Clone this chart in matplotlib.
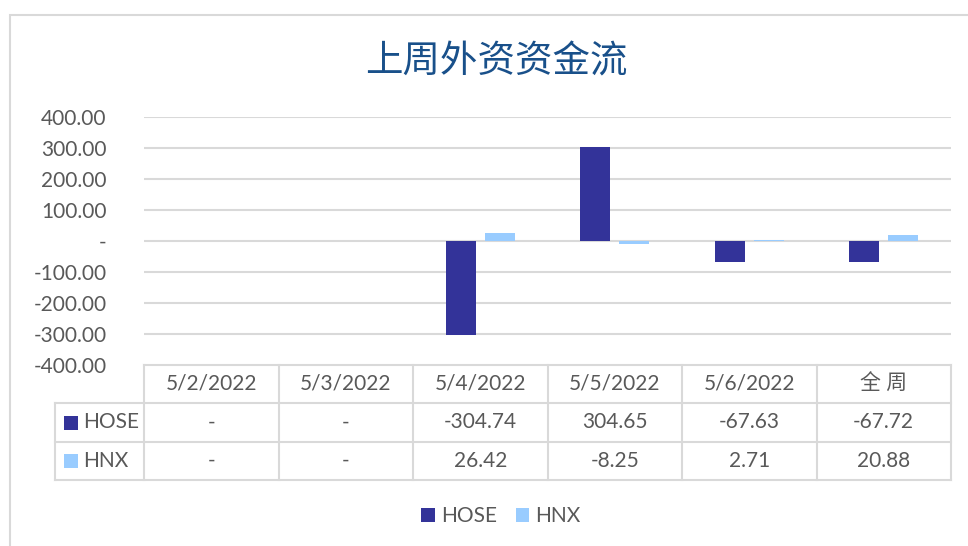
import matplotlib
matplotlib.use("Agg")
import matplotlib.pyplot as plt
from matplotlib.patches import Patch, Rectangle
from matplotlib.transforms import blended_transform_factory
import numpy as np

plt.rcParams['font.family'] = ['Lato', 'Noto Sans CJK SC', 'DejaVu Sans']

# data
dates = ['5/2/2022', '5/3/2022', '5/4/2022', '5/5/2022', '5/6/2022', '全 周']
hose = [0, 0, -304.74, 304.65, -67.63, -67.72]
hnx = [0, 0, 26.42, -8.25, 2.71, 20.88]
series_names = ['HOSE', 'HNX']
yticks = [-400, -300, -200, -100, 0, 100, 200, 300, 400]

c_hose = '#333399'
c_hnx = '#99CCFF'
grid_c = '#D9D9D9'
text_c = '#595959'

fig = plt.figure(figsize=(9.68, 5.46), dpi=100)
W, H = 968, 546

# outer chart frame
fig.patches.append(Rectangle((10 / W, -0.2), 1.2, 1 - 15 / H + 0.2, transform=fig.transFigure,
                             fill=False, edgecolor=grid_c, lw=1.5))

ax = fig.add_axes([144 / W, 1 - 365 / H, (951 - 144) / W, (365 - 117) / H])
x = np.arange(len(dates))
bw = 0.22
off = 0.145
ax.bar(x - off, hose, bw, color=c_hose, zorder=3)
ax.bar(x + off, hnx, bw, color=c_hnx, zorder=3)

ax.set_xlim(-0.5, len(dates) - 0.5)
ax.set_ylim(-400, 400)
ax.set_yticks(yticks)
ax.set_yticklabels(['-' if v == 0 else f'{v:.2f}' for v in yticks], fontsize=15, color=text_c)
ax.tick_params(axis='y', length=0, pad=27)
ax.set_xticks([])
for s in ax.spines.values():
    s.set_visible(False)
for v in yticks[1:]:
    ax.axhline(v, color=grid_c, lw=1.5, zorder=1)

# data table under the axes
tr = blended_transform_factory(ax.transData, ax.transAxes)
ah = 365 - 117
ry = [0, (365 - 403) / ah, (365 - 442) / ah, (365 - 480) / ah]
xl = -0.5 - 89 / 134.5
xr = len(dates) - 0.5
kw = dict(color=grid_c, lw=1.5, transform=tr, clip_on=False)
ax.plot([-0.5, xr], [ry[0], ry[0]], **kw)
for yy in ry[1:]:
    ax.plot([xl, xr], [yy, yy], **kw)
for i in range(len(dates) + 1):
    ax.plot([i - 0.5, i - 0.5], [ry[0], ry[3]], **kw)
ax.plot([xl, xl], [ry[1], ry[3]], **kw)

def fmt(v):
    return '-' if v == 0 else f'{v:.2f}'

for i, d in enumerate(dates):
    ax.text(i, (ry[0] + ry[1]) / 2, d, transform=tr, ha='center', va='center',
            fontsize=15, color=text_c, clip_on=False)
    ax.text(i, (ry[1] + ry[2]) / 2, fmt(hose[i]), transform=tr, ha='center', va='center',
            fontsize=15, color=text_c, clip_on=False)
    ax.text(i, (ry[2] + ry[3]) / 2, fmt(hnx[i]), transform=tr, ha='center', va='center',
            fontsize=15, color=text_c, clip_on=False)

for k, (name, col) in enumerate(zip(series_names, [c_hose, c_hnx])):
    yc = (ry[k + 1] + ry[k + 2]) / 2
    ax.add_patch(Rectangle((xl + 9 / 134.5, yc - 7 / ah), 14 / 134.5, 14 / ah, transform=tr,
                           facecolor=col, edgecolor='none', clip_on=False))
    ax.text(xl + 28 / 134.5, yc, name, transform=tr, ha='left', va='center',
            fontsize=15, color=text_c, clip_on=False)

fig.text(496 / W, 1 - 62 / H, '上周外资资金流', ha='center', va='center', fontsize=27,
         color='#19508A', fontweight='medium', family=['Noto Sans CJK SC'])

handles = [Patch(facecolor=c_hose), Patch(facecolor=c_hnx)]
fig.legend(handles, series_names, loc='center', bbox_to_anchor=(501 / W, 1 - 516 / H), ncol=2,
           frameon=False, fontsize=15, handlelength=0.65, handleheight=0.65, handletextpad=0.3,
           columnspacing=0.9, labelcolor=text_c)

fig.savefig('out.png', dpi=100)
